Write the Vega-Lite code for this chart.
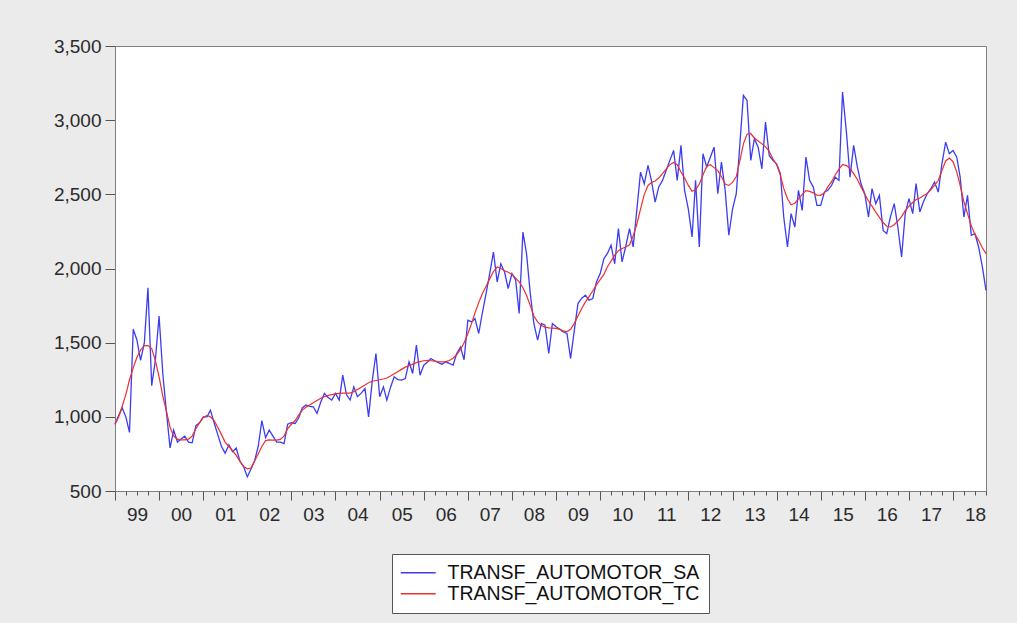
{
  "$schema": "https://vega.github.io/schema/vega-lite/v6.json",
  "width": 871,
  "height": 445,
  "autosize": {"type": "none"},
  "padding": {"left": 115, "top": 46, "right": 31, "bottom": 132},
  "background": "#ebebeb",
  "config": {
    "view": {"stroke": "#808080", "strokeWidth": 1, "fill": "#ffffff"},
    "font": "Liberation Sans",
    "axis": {"labelFont": "Liberation Sans", "labelFontSize": 19, "labelColor": "#2a2a2a", "tickColor": "#555555", "domainColor": "#808080", "grid": false, "title": null}
  },
  "datasets": {
    "ts": [
{"d":"1999-01","s":950,"t":950},{"d":"1999-02","s":1010,"t":1000},{"d":"1999-03","s":1060,"t":1070},{"d":"1999-04","s":1000,"t":1150},{"d":"1999-05","s":895,"t":1250},{"d":"1999-06","s":1590,"t":1330},{"d":"1999-07","s":1520,"t":1400},{"d":"1999-08","s":1380,"t":1450},{"d":"1999-09","s":1500,"t":1480},{"d":"1999-10","s":1870,"t":1480},{"d":"1999-11","s":1210,"t":1460},{"d":"1999-12","s":1380,"t":1380},
{"d":"2000-01","s":1680,"t":1270},{"d":"2000-02","s":1290,"t":1140},{"d":"2000-03","s":1040,"t":1040},{"d":"2000-04","s":790,"t":930},{"d":"2000-05","s":910,"t":870},{"d":"2000-06","s":830,"t":850},{"d":"2000-07","s":850,"t":845},{"d":"2000-08","s":870,"t":845},{"d":"2000-09","s":830,"t":850},{"d":"2000-10","s":825,"t":870},{"d":"2000-11","s":940,"t":920},{"d":"2000-12","s":960,"t":960},
{"d":"2001-01","s":1000,"t":995},{"d":"2001-02","s":1000,"t":1010},{"d":"2001-03","s":1045,"t":1000},{"d":"2001-04","s":960,"t":975},{"d":"2001-05","s":880,"t":930},{"d":"2001-06","s":800,"t":880},{"d":"2001-07","s":755,"t":830},{"d":"2001-08","s":810,"t":800},{"d":"2001-09","s":765,"t":770},{"d":"2001-10","s":790,"t":740},{"d":"2001-11","s":700,"t":700},{"d":"2001-12","s":665,"t":665},
{"d":"2002-01","s":595,"t":650},{"d":"2002-02","s":650,"t":655},{"d":"2002-03","s":700,"t":700},{"d":"2002-04","s":800,"t":750},{"d":"2002-05","s":975,"t":800},{"d":"2002-06","s":860,"t":840},{"d":"2002-07","s":910,"t":845},{"d":"2002-08","s":870,"t":843},{"d":"2002-09","s":830,"t":843},{"d":"2002-10","s":830,"t":848},{"d":"2002-11","s":820,"t":870},{"d":"2002-12","s":950,"t":920},
{"d":"2003-01","s":960,"t":950},{"d":"2003-02","s":955,"t":975},{"d":"2003-03","s":990,"t":1010},{"d":"2003-04","s":1060,"t":1045},{"d":"2003-05","s":1080,"t":1065},{"d":"2003-06","s":1070,"t":1080},{"d":"2003-07","s":1068,"t":1095},{"d":"2003-08","s":1023,"t":1110},{"d":"2003-09","s":1100,"t":1125},{"d":"2003-10","s":1158,"t":1135},{"d":"2003-11","s":1130,"t":1145},{"d":"2003-12","s":1113,"t":1150},
{"d":"2004-01","s":1158,"t":1155},{"d":"2004-02","s":1113,"t":1158},{"d":"2004-03","s":1281,"t":1160},{"d":"2004-04","s":1150,"t":1160},{"d":"2004-05","s":1113,"t":1160},{"d":"2004-06","s":1202,"t":1170},{"d":"2004-07","s":1136,"t":1185},{"d":"2004-08","s":1160,"t":1200},{"d":"2004-09","s":1191,"t":1215},{"d":"2004-10","s":1000,"t":1230},{"d":"2004-11","s":1247,"t":1240},{"d":"2004-12","s":1427,"t":1245},
{"d":"2005-01","s":1136,"t":1250},{"d":"2005-02","s":1202,"t":1255},{"d":"2005-03","s":1113,"t":1262},{"d":"2005-04","s":1200,"t":1275},{"d":"2005-05","s":1270,"t":1290},{"d":"2005-06","s":1250,"t":1305},{"d":"2005-07","s":1247,"t":1320},{"d":"2005-08","s":1258,"t":1335},{"d":"2005-09","s":1371,"t":1345},{"d":"2005-10","s":1292,"t":1355},{"d":"2005-11","s":1483,"t":1365},{"d":"2005-12","s":1281,"t":1372},
{"d":"2006-01","s":1348,"t":1378},{"d":"2006-02","s":1370,"t":1380},{"d":"2006-03","s":1393,"t":1378},{"d":"2006-04","s":1378,"t":1375},{"d":"2006-05","s":1365,"t":1372},{"d":"2006-06","s":1355,"t":1370},{"d":"2006-07","s":1371,"t":1372},{"d":"2006-08","s":1360,"t":1380},{"d":"2006-09","s":1348,"t":1395},{"d":"2006-10","s":1427,"t":1420},{"d":"2006-11","s":1470,"t":1455},{"d":"2006-12","s":1385,"t":1500},
{"d":"2007-01","s":1652,"t":1560},{"d":"2007-02","s":1640,"t":1630},{"d":"2007-03","s":1663,"t":1700},{"d":"2007-04","s":1562,"t":1770},{"d":"2007-05","s":1700,"t":1830},{"d":"2007-06","s":1831,"t":1880},{"d":"2007-07","s":1966,"t":1930},{"d":"2007-08","s":2111,"t":1980},{"d":"2007-09","s":1909,"t":2010},{"d":"2007-10","s":2032,"t":2000},{"d":"2007-11","s":1976,"t":1985},{"d":"2007-12","s":1865,"t":1975},
{"d":"2008-01","s":1966,"t":1960},{"d":"2008-02","s":1921,"t":1935},{"d":"2008-03","s":1697,"t":1910},{"d":"2008-04","s":2246,"t":1870},{"d":"2008-05","s":2100,"t":1820},{"d":"2008-06","s":1831,"t":1750},{"d":"2008-07","s":1629,"t":1680},{"d":"2008-08","s":1517,"t":1640},{"d":"2008-09","s":1629,"t":1615},{"d":"2008-10","s":1618,"t":1605},{"d":"2008-11","s":1427,"t":1600},{"d":"2008-12","s":1629,"t":1598},
{"d":"2009-01","s":1607,"t":1596},{"d":"2009-02","s":1590,"t":1590},{"d":"2009-03","s":1573,"t":1580},{"d":"2009-04","s":1562,"t":1575},{"d":"2009-05","s":1393,"t":1590},{"d":"2009-06","s":1584,"t":1630},{"d":"2009-07","s":1764,"t":1680},{"d":"2009-08","s":1800,"t":1730},{"d":"2009-09","s":1820,"t":1775},{"d":"2009-10","s":1786,"t":1810},{"d":"2009-11","s":1798,"t":1850},{"d":"2009-12","s":1909,"t":1890},
{"d":"2010-01","s":1966,"t":1925},{"d":"2010-02","s":2067,"t":1960},{"d":"2010-03","s":2100,"t":2010},{"d":"2010-04","s":2157,"t":2050},{"d":"2010-05","s":2032,"t":2090},{"d":"2010-06","s":2269,"t":2120},{"d":"2010-07","s":2044,"t":2135},{"d":"2010-08","s":2150,"t":2145},{"d":"2010-09","s":2269,"t":2160},{"d":"2010-10","s":2145,"t":2220},{"d":"2010-11","s":2400,"t":2300},{"d":"2010-12","s":2650,"t":2400},
{"d":"2011-01","s":2571,"t":2500},{"d":"2011-02","s":2695,"t":2560},{"d":"2011-03","s":2594,"t":2580},{"d":"2011-04","s":2448,"t":2590},{"d":"2011-05","s":2550,"t":2610},{"d":"2011-06","s":2594,"t":2640},{"d":"2011-07","s":2661,"t":2670},{"d":"2011-08","s":2729,"t":2700},{"d":"2011-09","s":2796,"t":2715},{"d":"2011-10","s":2594,"t":2700},{"d":"2011-11","s":2830,"t":2650},{"d":"2011-12","s":2527,"t":2610},
{"d":"2012-01","s":2400,"t":2560},{"d":"2012-02","s":2213,"t":2520},{"d":"2012-03","s":2594,"t":2530},{"d":"2012-04","s":2145,"t":2570},{"d":"2012-05","s":2774,"t":2630},{"d":"2012-06","s":2684,"t":2690},{"d":"2012-07","s":2750,"t":2700},{"d":"2012-08","s":2818,"t":2680},{"d":"2012-09","s":2504,"t":2660},{"d":"2012-10","s":2717,"t":2620},{"d":"2012-11","s":2527,"t":2570},{"d":"2012-12","s":2224,"t":2560},
{"d":"2013-01","s":2400,"t":2580},{"d":"2013-02","s":2504,"t":2620},{"d":"2013-03","s":2818,"t":2720},{"d":"2013-04","s":3167,"t":2840},{"d":"2013-05","s":3133,"t":2905},{"d":"2013-06","s":2729,"t":2910},{"d":"2013-07","s":2875,"t":2880},{"d":"2013-08","s":2818,"t":2860},{"d":"2013-09","s":2672,"t":2840},{"d":"2013-10","s":2987,"t":2820},{"d":"2013-11","s":2762,"t":2790},{"d":"2013-12","s":2730,"t":2740},
{"d":"2014-01","s":2706,"t":2700},{"d":"2014-02","s":2639,"t":2630},{"d":"2014-03","s":2347,"t":2540},{"d":"2014-04","s":2145,"t":2470},{"d":"2014-05","s":2370,"t":2430},{"d":"2014-06","s":2280,"t":2440},{"d":"2014-07","s":2527,"t":2470},{"d":"2014-08","s":2392,"t":2500},{"d":"2014-09","s":2751,"t":2525},{"d":"2014-10","s":2594,"t":2520},{"d":"2014-11","s":2549,"t":2510},{"d":"2014-12","s":2426,"t":2495},
{"d":"2015-01","s":2426,"t":2493},{"d":"2015-02","s":2515,"t":2510},{"d":"2015-03","s":2527,"t":2550},{"d":"2015-04","s":2560,"t":2585},{"d":"2015-05","s":2616,"t":2630},{"d":"2015-06","s":2594,"t":2670},{"d":"2015-07","s":3189,"t":2700},{"d":"2015-08","s":2930,"t":2695},{"d":"2015-09","s":2616,"t":2675},{"d":"2015-10","s":2830,"t":2640},{"d":"2015-11","s":2684,"t":2600},{"d":"2015-12","s":2571,"t":2550},
{"d":"2016-01","s":2504,"t":2500},{"d":"2016-02","s":2347,"t":2455},{"d":"2016-03","s":2538,"t":2420},{"d":"2016-04","s":2437,"t":2380},{"d":"2016-05","s":2493,"t":2345},{"d":"2016-06","s":2257,"t":2310},{"d":"2016-07","s":2235,"t":2285},{"d":"2016-08","s":2350,"t":2280},{"d":"2016-09","s":2437,"t":2295},{"d":"2016-10","s":2280,"t":2320},{"d":"2016-11","s":2078,"t":2350},{"d":"2016-12","s":2370,"t":2390},
{"d":"2017-01","s":2471,"t":2420},{"d":"2017-02","s":2370,"t":2445},{"d":"2017-03","s":2572,"t":2465},{"d":"2017-04","s":2381,"t":2475},{"d":"2017-05","s":2450,"t":2490},{"d":"2017-06","s":2504,"t":2505},{"d":"2017-07","s":2538,"t":2530},{"d":"2017-08","s":2583,"t":2560},{"d":"2017-09","s":2515,"t":2595},{"d":"2017-10","s":2706,"t":2660},{"d":"2017-11","s":2852,"t":2725},{"d":"2017-12","s":2774,"t":2745},
{"d":"2018-01","s":2796,"t":2720},{"d":"2018-02","s":2750,"t":2650},{"d":"2018-03","s":2616,"t":2560},{"d":"2018-04","s":2347,"t":2450},{"d":"2018-05","s":2493,"t":2370},{"d":"2018-06","s":2224,"t":2290},{"d":"2018-07","s":2235,"t":2230},{"d":"2018-08","s":2145,"t":2190},{"d":"2018-09","s":2011,"t":2140},{"d":"2018-10","s":1853,"t":2100}
    ]
  },
  "data": {"name": "ts"},
  "layer": [
    {
      "mark": {"type": "line", "strokeWidth": 1.3},
      "encoding": {
        "x": {"field": "d", "type": "temporal", "scale": {"type": "utc", "nice": false},
              "axis": {"orient": "bottom", "labelExpr": "utcFormat(datum.value, '%y')", "tickCount": {"interval": "year", "step": 1}, "tickSize": 9, "labelOffset": 22, "labelPadding": 5, "labelFlush": false, "labelOverlap": false, "labelBound": false}},
        "y": {"field": "s", "type": "quantitative", "scale": {"domain": [500, 3500], "nice": false, "zero": false},
              "axis": {"values": [500, 1000, 1500, 2000, 2500, 3000, 3500], "format": ",.0f", "tickSize": 10, "labelPadding": 4}},
        "color": {"datum": "TRANSF_AUTOMOTOR_SA", "type": "nominal",
                  "scale": {"domain": ["TRANSF_AUTOMOTOR_SA", "TRANSF_AUTOMOTOR_TC"], "range": ["#3c3cf0", "#ec3030"]},
                  "legend": {"orient": "none", "legendX": 277, "legendY": 508, "title": null, "symbolType": "M-2,0H5", "symbolSize": 100, "symbolStrokeWidth": 1.3, "labelFont": "Liberation Sans", "labelFontSize": 19.5, "labelColor": "#111111", "labelLimit": 400, "strokeColor": "#555555", "fillColor": "#ffffff", "padding": 9, "rowPadding": 0, "labelOffset": 27}}
      }
    },
    {
      "mark": {"type": "line", "strokeWidth": 1.2},
      "encoding": {
        "x": {"field": "d", "type": "temporal",
              "axis": {"orient": "bottom", "labels": false, "domain": false, "tickSize": 4, "tickCount": {"interval": "month", "step": 3}}},
        "y": {"field": "t", "type": "quantitative"},
        "color": {"datum": "TRANSF_AUTOMOTOR_TC", "type": "nominal"}
      }
    }
  ],
  "resolve": {"axis": {"x": "independent"}}
}
